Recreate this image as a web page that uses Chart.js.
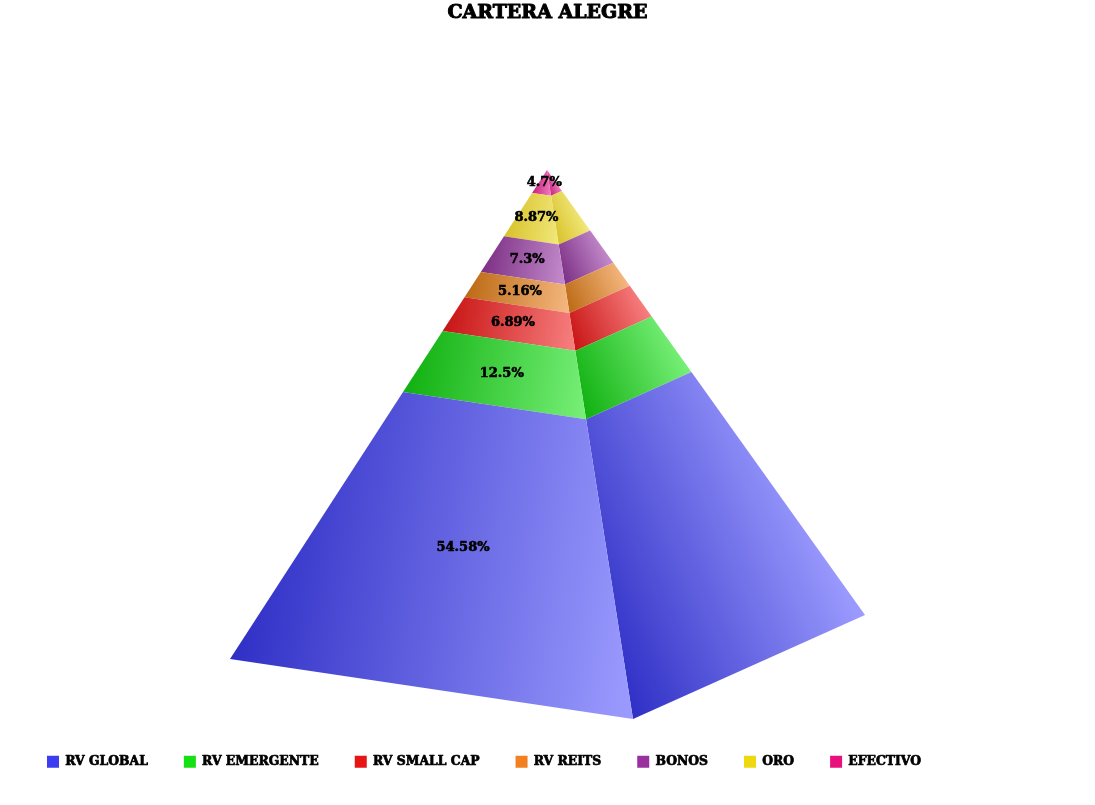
<!DOCTYPE html>
<html>
<head>
<meta charset="utf-8">
<style>html,body{margin:0;padding:0;background:#fff}#wrap{width:1095px;height:805px}</style>
<script src="https://cdn.jsdelivr.net/npm/chart.js@4"></script>
</head>
<body>
<div id="wrap"><canvas id="c" width="1095" height="805"></canvas></div>
<script>
const categories = ['RV GLOBAL','RV EMERGENTE','RV SMALL CAP','RV REITS','BONOS','ORO','EFECTIVO'];
const shares = [54.58,12.5,6.89,5.16,7.3,8.87,4.7];
const legendColors = ['#3c3cf0','#14e014','#e81414','#f08020','#9a30a0','#eed810','#e8107c'];
const darkColors = ['#2f2fc6','#10b010','#c81414','#bc6a14','#7c2f84','#d8c22a','#c8207c'];
const lightColors = ['#9c9cff','#78f078','#f88080','#f5b880','#c48ccc','#f2e87c','#f080c0'];
const apex = [547,170];
const leftBase = [230,659];
const frontBase = [633,719];
const rightBase = [865,615];

const FONT = '"DejaVu Serif"';
const TITLE_SIZE = 19, LEGEND_SIZE = 12.4, LABEL_SIZE = 13;

function along(corner, pct){
  return {x: corner[0] + (apex[0]-corner[0])*pct/100, y: corner[1] + (apex[1]-corner[1])*pct/100};
}
function bands(){
  let low = 0;
  return shares.map(v => { const b = [low, low+v]; low += v; return b; });
}
const cumulative = bands();

function faceDataset(i, a, b){
  const [lo, hi] = cumulative[i];
  const pts = [along(a,lo), along(b,lo), along(b,hi), along(a,hi)];
  return {
    label: categories[i],
    data: pts,
    showLine: true,
    fill: 'shape',
    tension: 0,
    borderWidth: 0,
    pointRadius: 0,
    pointHoverRadius: 0,
    clip: false,
    backgroundColor: (ctx) => {
      const {x, y} = ctx.chart.scales;
      const coords = [x.getPixelForValue(pts[0].x), y.getPixelForValue(pts[0].y),
                      x.getPixelForValue(pts[1].x), y.getPixelForValue(pts[1].y)];
      if (!coords.every(Number.isFinite)) return darkColors[i];
      const g = ctx.chart.ctx.createLinearGradient(...coords);
      g.addColorStop(0, darkColors[i]);
      g.addColorStop(1, lightColors[i]);
      return g;
    }
  };
}
const datasets = [];
categories.forEach((c, i) => {
  datasets.push(faceDataset(i, leftBase, frontBase));
  datasets.push(faceDataset(i, frontBase, rightBase));
});

const shareLabels = {
  id: 'shareLabels',
  afterDatasetsDraw(chart){
    const {ctx, scales:{x, y}} = chart;
    ctx.save();
    ctx.font = 'bold ' + LABEL_SIZE + 'px ' + FONT;
    ctx.fillStyle = '#000';
    ctx.strokeStyle = '#000';
    ctx.lineWidth = 0.6;
    ctx.textAlign = 'center';
    ctx.textBaseline = 'middle';
    shares.forEach((v, i) => {
      const pts = chart.data.datasets[i*2].data;
      const mx = pts.reduce((s,p)=>s+p.x,0)/4;
      const my = pts.reduce((s,p)=>s+p.y,0)/4;
      const px = x.getPixelForValue(mx), py = y.getPixelForValue(my);
      ctx.fillText(v + '%', px, py);
      ctx.strokeText(v + '%', px, py);
    });
    ctx.restore();
  }
};

// The reference uses a very heavy display face: thicken the library's own title and legend text.
const heavyText = {
  id: 'heavyText',
  afterDraw(chart){
    const {ctx} = chart;
    ctx.save();
    ctx.strokeStyle = '#000';
    ctx.textBaseline = 'middle';
    ctx.lineJoin = 'round';
    const t = chart.titleBlock;
    const tOpts = chart.options.plugins.title;
    ctx.font = 'bold ' + TITLE_SIZE + 'px ' + FONT;
    ctx.textAlign = 'center';
    ctx.lineWidth = 1;
    ctx.strokeText(tOpts.text, (t.left + t.right)/2, t.top + tOpts.padding.top + TITLE_SIZE*1.2/2);
    ctx.font = 'bold ' + LEGEND_SIZE + 'px ' + FONT;
    ctx.textAlign = 'left';
    ctx.lineWidth = 0.7;
    const boxW = chart.options.plugins.legend.labels.boxWidth;
    chart.legend.legendHitBoxes.forEach((h, i) => {
      ctx.strokeText(categories[i], h.left + boxW + LEGEND_SIZE/2, h.top + h.height/2);
    });
    ctx.restore();
  }
};

const chart = new Chart(document.getElementById('c'), {
  type: 'scatter',
  data: {datasets},
  plugins: [shareLabels, heavyText],
  options: {
    responsive: false,
    animation: false,
    layout: {padding: {left: 11, right: 11, bottom: 27}},
    scales: {
      x: {type:'linear', display:false, min:0, max:1095},
      y: {type:'linear', display:false, reverse:true, min:0, max:805}
    },
    plugins: {
      tooltip: {enabled:false},
      title: {
        display: true,
        text: 'CARTERA ALEGRE',
        color: '#000',
        font: {family: FONT, size: TITLE_SIZE, weight: 'bold'},
        padding: {top: 2, bottom: 4}
      },
      legend: {
        position: 'bottom',
        align: 'start',
        onClick: null,
        labels: {
          boxWidth: 12,
          boxHeight: 12,
          padding: 36,
          color: '#000',
          font: {family: FONT, size: LEGEND_SIZE, weight: 'bold'},
          generateLabels: () => categories.map((c, i) => ({
            text: c, fillStyle: legendColors[i], strokeStyle: legendColors[i], lineWidth: 0, datasetIndex: i*2, hidden: false
          }))
        }
      }
    }
  }
});
// map scale units one-to-one onto page pixels
const area = chart.chartArea;
chart.options.scales.x.min = area.left;
chart.options.scales.x.max = area.right;
chart.options.scales.y.min = area.top;
chart.options.scales.y.max = area.bottom;
chart.update('none');
</script>
</body>
</html>
